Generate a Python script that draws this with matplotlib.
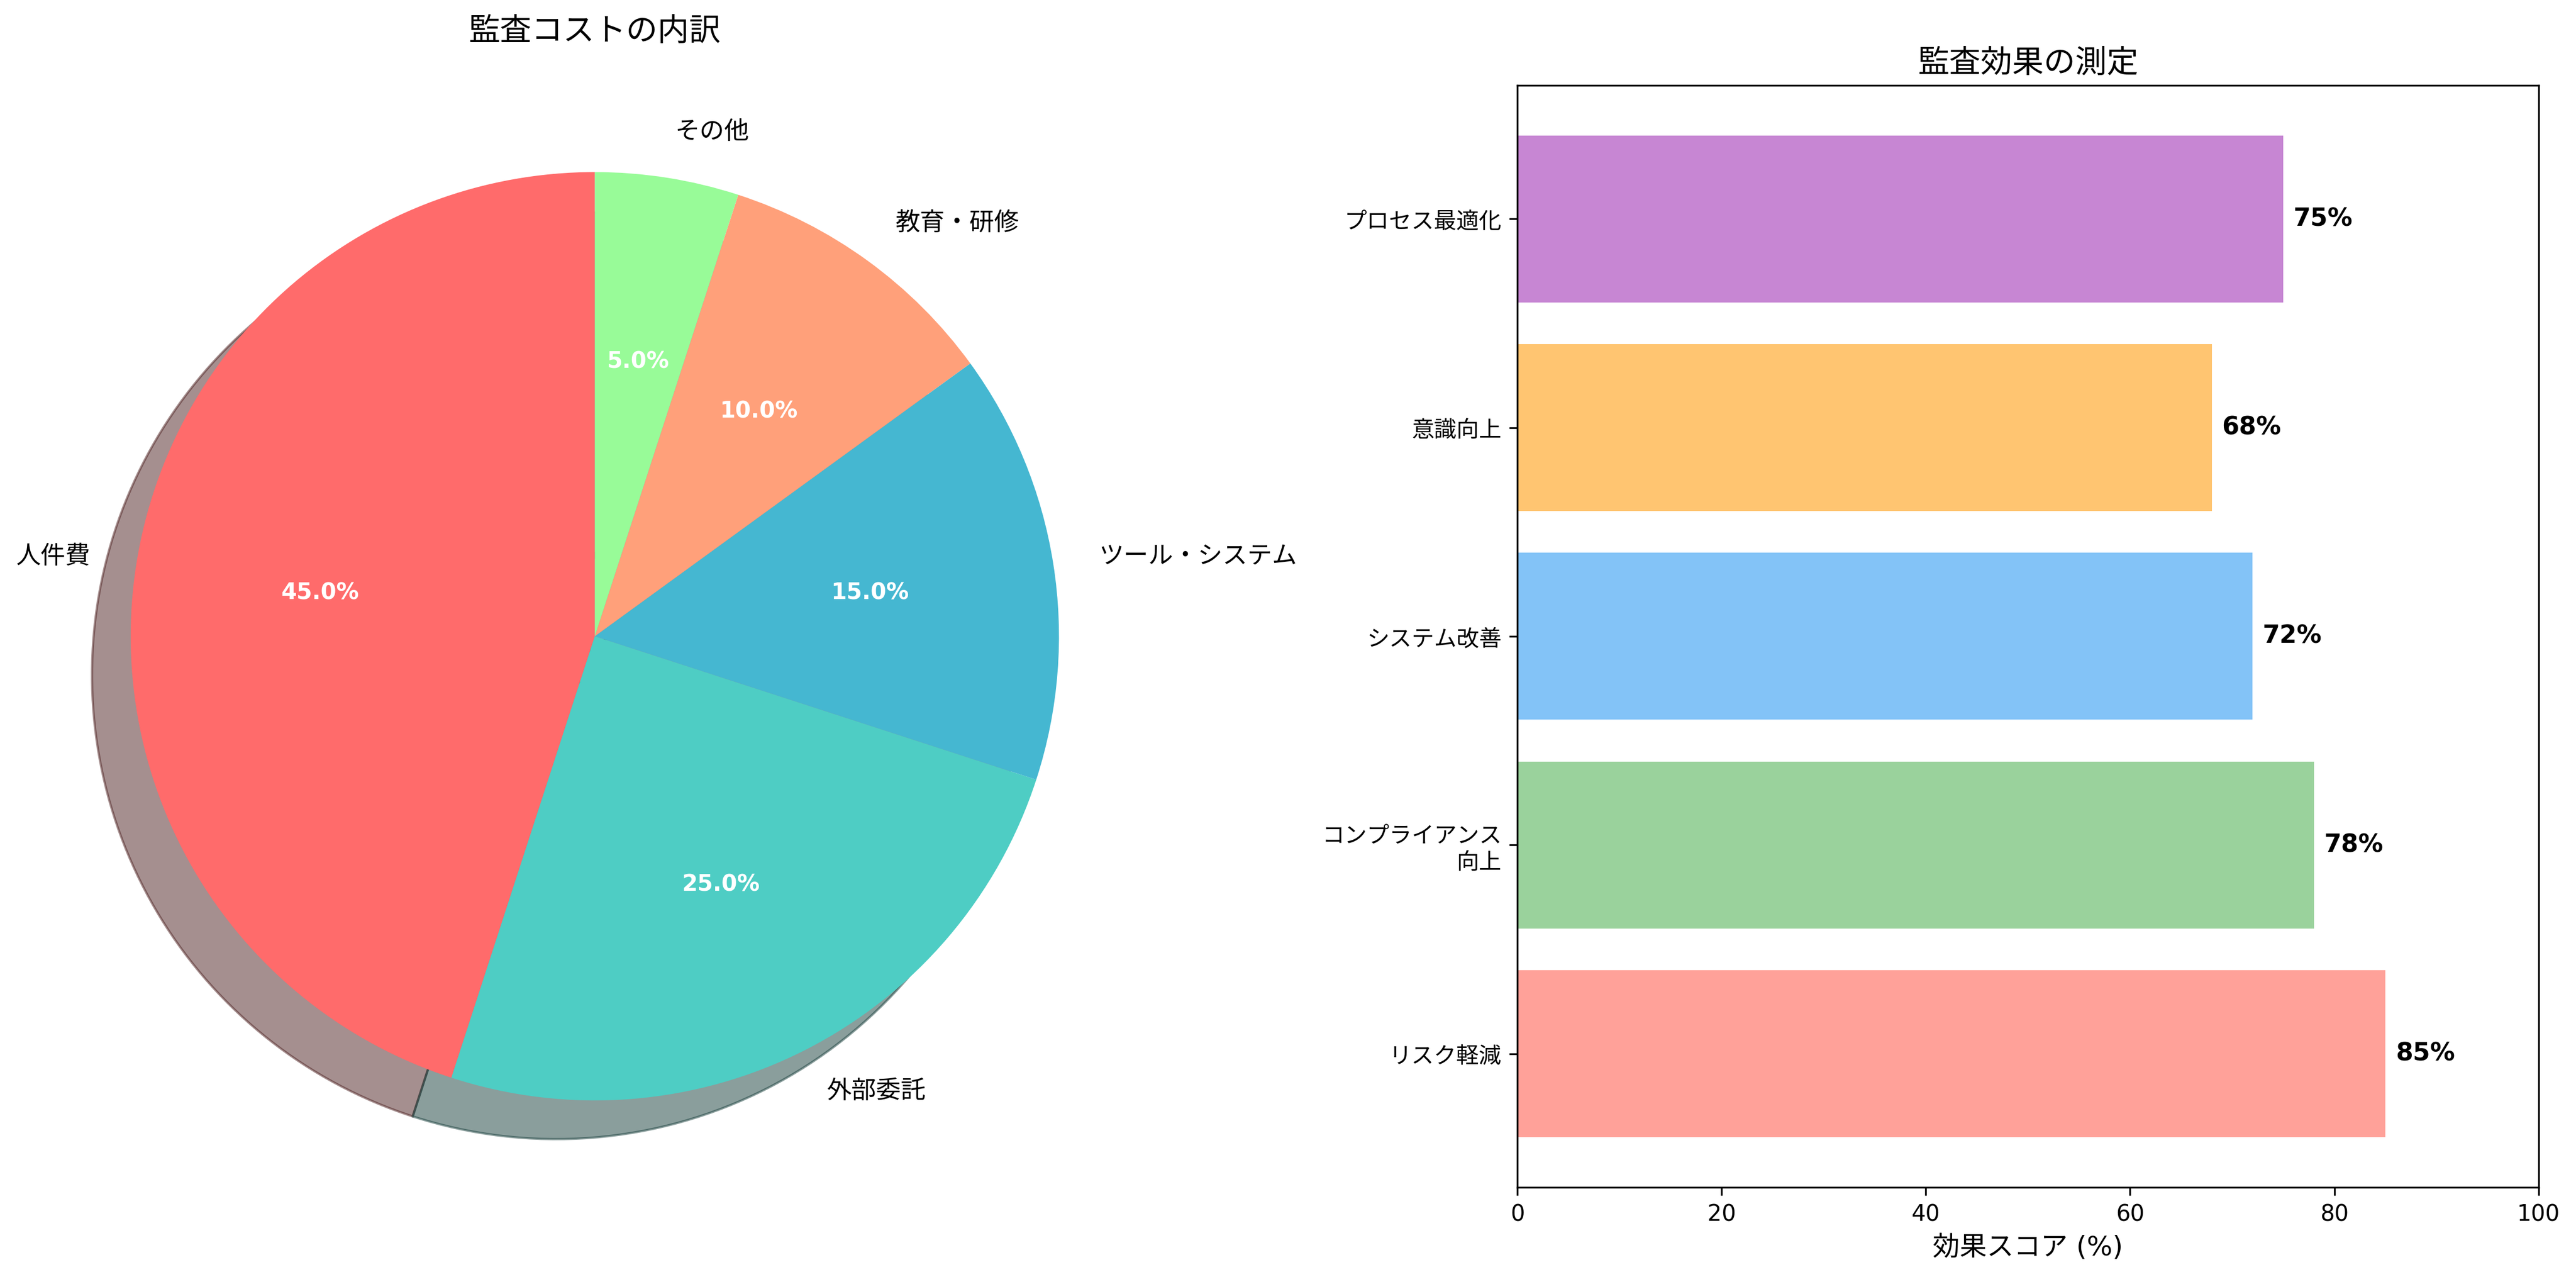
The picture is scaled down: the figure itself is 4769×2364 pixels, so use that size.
import matplotlib.pyplot as plt

plt.rcParams['font.family'] = ['DejaVu Sans', 'Noto Sans CJK JP']

# コスト内訳
cost_labels = ['人件費', '外部委託', 'ツール・システム', '教育・研修', 'その他']
cost_values = [45, 25, 15, 10, 5]
cost_colors = ['#FF6B6B', '#4ECDC4', '#45B7D1', '#FFA07A', '#98FB98']

# 効果測定
effect_labels = ['リスク軽減', 'コンプライアンス\n向上', 'システム改善', '意識向上', 'プロセス最適化']
effect_values = [85, 78, 72, 68, 75]
effect_colors = ['#FF8A80', '#81C784', '#64B5F6', '#FFB74D', '#BA68C8']

fig, (ax1, ax2) = plt.subplots(1, 2, figsize=(16, 8))

wedges, texts, autotexts = ax1.pie(cost_values, labels=cost_labels, colors=cost_colors,
                                   autopct='%1.1f%%', startangle=90, shadow=True,
                                   textprops={'fontsize': 11})
for t in autotexts:
    t.set_color('white')
    t.set_fontweight('bold')
    t.set_fontsize(10)
ax1.set_title('監査コストの内訳', fontsize=14, pad=20)
ax1.axis('equal')

bars = ax2.barh(effect_labels, effect_values, color=effect_colors, alpha=0.8)
for bar, v in zip(bars, effect_values):
    ax2.text(bar.get_width() + 1, bar.get_y() + bar.get_height() / 2, f'{v}%',
             va='center', fontsize=11, fontweight='bold')
ax2.set_xlim(0, 100)
ax2.set_xlabel('効果スコア (%)', fontsize=12)
ax2.set_title('監査効果の測定', fontsize=14)

plt.tight_layout()
plt.savefig('out.png', dpi=300, bbox_inches='tight')
